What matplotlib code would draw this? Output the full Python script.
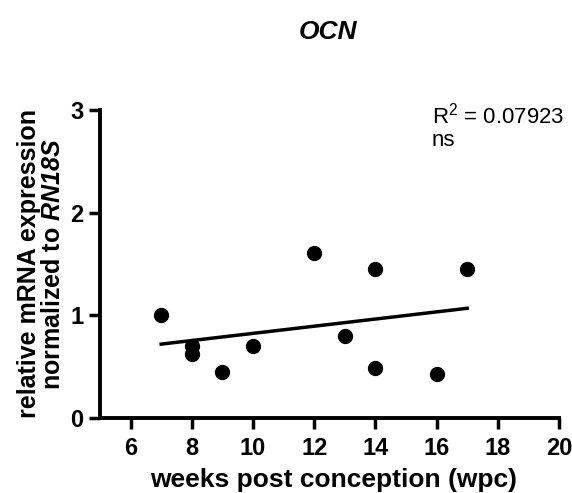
import numpy as np
import matplotlib
matplotlib.use("Agg")
import matplotlib.pyplot as plt

plt.rcParams['font.family'] = ['Liberation Sans', 'DejaVu Sans']
plt.rcParams['mathtext.fontset'] = 'custom'
plt.rcParams['mathtext.it'] = 'Liberation Sans:italic:bold'
plt.rcParams['mathtext.rm'] = 'Liberation Sans:italic:bold'
plt.rcParams['mathtext.default'] = 'regular'

# OCN expression vs. developmental age
wpc = [7, 8, 8, 9, 10, 12, 13, 14, 14, 16, 17]
expression = [1.00, 0.70, 0.62, 0.45, 0.70, 1.61, 0.80, 1.45, 0.485, 0.43, 1.45]
x_ticks = [6, 8, 10, 12, 14, 16, 18, 20]
y_ticks = [0, 1, 2, 3]
r_squared = "0.07923"

W, H = 572, 493
fig = plt.figure(figsize=(W / 100, H / 100), dpi=100)
ax = fig.add_axes([100 / W, 1 - 418 / H, 459 / W, 308 / H])

ax.plot(wpc, expression, 'o', color='black', ms=10, zorder=3, clip_on=False)

# linear regression over the sampled range
slope, intercept = np.polyfit(wpc, expression, 1)
xs = np.array([min(wpc), max(wpc)])
ax.plot(xs, slope * xs + intercept, color='black', lw=2.5)

ax.set_xlim(5, 20)
ax.set_ylim(0, 3)
ax.set_xticks(x_ticks)
ax.set_yticks(y_ticks)

for s in ['top', 'right']:
    ax.spines[s].set_visible(False)
for s in ['left', 'bottom']:
    ax.spines[s].set_linewidth(2.8)
ax.tick_params(width=2.5, length=8, labelsize=17)
ax.tick_params(axis='x', pad=6)
ax.tick_params(axis='y', pad=4)
for lbl in ax.get_xticklabels() + ax.get_yticklabels():
    lbl.set_fontweight('bold')

fig.text(334 / W, 1 - 480 / H, 'weeks post conception (wpc)', fontsize=19,
         fontweight='bold', ha='center', va='center')
fig.text(41 / W, 1 - 264 / H,
         'relative mRNA expression\nnormalized to $\\mathit{RN18S}$',
         fontsize=18, fontweight='bold', ha='center', va='center',
         rotation=90, linespacing=1.0, multialignment='center')

fig.text(328 / W, 1 - 32 / H, 'OCN', fontsize=19, fontweight='bold',
         fontstyle='italic', ha='center', va='center')

fig.text(432 / W, 1 - 103 / H, 'R$^2$ = ' + r_squared + '\nns',
         fontsize=16, ha='left', va='top', linespacing=1.1)

fig.savefig('out.png', dpi=100)
